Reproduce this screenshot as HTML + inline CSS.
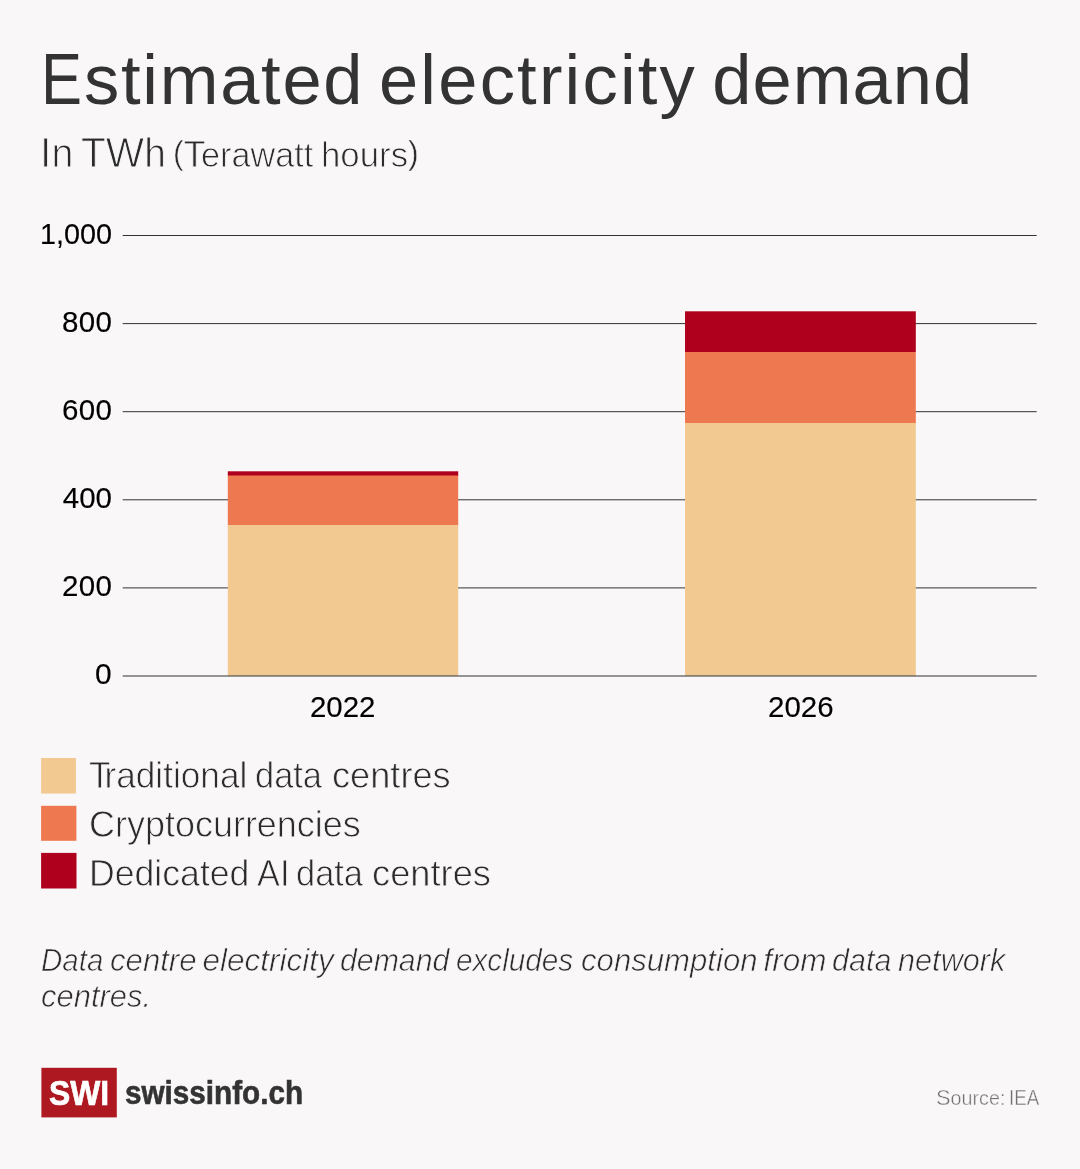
<!DOCTYPE html>
<html lang="en">
<head>
<meta charset="utf-8">
<meta name="viewport" content="width=1080">
<title>Estimated electricity demand</title>
<style>
  html, body { margin: 0; padding: 0; }
  body {
    width: 1080px; height: 1169px; overflow: hidden; position: relative;
    background: #f9f7f8; color: #333;
    font-family: "Liberation Sans", sans-serif;
  }
  h1, p, ul, li { margin: 0; padding: 0; font: inherit; list-style: none; }
  svg { position: absolute; left: 0; top: 0; }
  /* every text piece is absolutely placed; scaleX / letter-spacing tune glyph widths */
  .t { position: absolute; display: block; white-space: nowrap; line-height: 1; transform-origin: 0 0; }
</style>
</head>
<body>
<svg width="1080" height="1169" viewBox="0 0 1080 1169" aria-hidden="true">
  <g stroke="#333" stroke-width="1">
    <line x1="122.7" x2="1036.7" y1="235.5" y2="235.5"/>
    <line x1="122.7" x2="1036.7" y1="323.6" y2="323.6"/>
    <line x1="122.7" x2="1036.7" y1="411.7" y2="411.7"/>
    <line x1="122.7" x2="1036.7" y1="499.8" y2="499.8"/>
    <line x1="122.7" x2="1036.7" y1="587.9" y2="587.9"/>
  </g>
  <g>
    <rect x="227.8" y="471.3" width="230.4" height="4.7" fill="#af001d"/>
    <rect x="227.8" y="475.5" width="230.4" height="50" fill="#ee7950"/>
    <rect x="227.8" y="525" width="230.4" height="151" fill="#f2c990"/>
    <rect x="685" y="311.3" width="230.8" height="41" fill="#af001d"/>
    <rect x="685" y="352" width="230.8" height="71.5" fill="#ee7950"/>
    <rect x="685" y="423" width="230.8" height="253" fill="#f2c990"/>
  </g>
  <line x1="122.7" x2="1036.7" y1="676" y2="676" stroke="#333" stroke-width="1"/>
  <rect x="41.1" y="758" width="34.8" height="35.6" fill="#f2c990"/>
  <rect x="41.1" y="805.8" width="35.3" height="35" fill="#ee7950"/>
  <rect x="41.1" y="852.9" width="35.4" height="35.6" fill="#af001d"/>
  <rect x="41.4" y="1067.8" width="75.4" height="49.6" fill="#ae1921"/>
</svg>
<h1 id="title">
  <span class="t" style="left:41.13px;top:43px;font-size:70.5px;color:#333;letter-spacing:1.723px;"><span style="display:inline-block;font-size:1.035em;transform:scaleX(0.8432);transform-origin:0 0;margin-right:-7.46px">E</span>stimated</span>
  <span class="t" style="left:378.95px;top:45px;font-size:70.5px;color:#333;letter-spacing:2.212px;">electricity</span>
  <span class="t" style="left:712.27px;top:45px;font-size:70.5px;color:#333;letter-spacing:1.049px;">demand</span>
</h1>
<p id="sub1">
  <span class="t" style="left:39.94px;top:132px;font-size:40.75px;color:#2b2b2b;transform:scaleX(0.9647);-webkit-text-stroke:0.95px #f9f7f8;"><span style="font-size:1.043em">I</span>n</span>
  <span class="t" style="left:80.61px;top:132px;font-size:40.75px;color:#2b2b2b;transform:scaleX(0.9554);-webkit-text-stroke:0.95px #f9f7f8;"><span style="font-size:1.043em">TW</span>h</span>
</p>
<p id="sub2">
  <span class="t" style="left:172.72px;top:136px;font-size:35px;color:#2b2b2b;transform:scaleX(0.9776);-webkit-text-stroke:0.85px #f9f7f8;"><span style="font-size:0.930em;position:relative;top:-0.1em;-webkit-text-stroke-width:0.5px">(</span><span style="font-size:1.057em;letter-spacing:-0.13em">T</span>erawatt</span>
  <span class="t" style="left:320.91px;top:137px;font-size:35px;color:#2b2b2b;transform:scaleX(0.9947);-webkit-text-stroke:0.85px #f9f7f8;">hours<span style="font-size:0.930em;position:relative;top:-0.1em;-webkit-text-stroke-width:0.5px">)</span></span>
</p>
<div class="t" id="y0w0" style="left:39.77px;top:219px;font-size:29.5px;color:#000;transform:scaleX(0.9769);-webkit-text-stroke:0.15px #000;">1,000</div>
<div class="t" id="y1w0" style="left:62.08px;top:307px;font-size:29.5px;color:#000;letter-spacing:0.310px;-webkit-text-stroke:0.15px #000;">800</div>
<div class="t" id="y2w0" style="left:61.95px;top:395px;font-size:29.5px;color:#000;letter-spacing:0.414px;-webkit-text-stroke:0.15px #000;">600</div>
<div class="t" id="y3w0" style="left:62.79px;top:483px;font-size:29.5px;color:#000;letter-spacing:-0.038px;-webkit-text-stroke:0.15px #000;">400</div>
<div class="t" id="y4w0" style="left:62px;top:571px;font-size:29.5px;color:#000;letter-spacing:0.318px;-webkit-text-stroke:0.15px #000;">200</div>
<div class="t" id="y5w0" style="left:95.17px;top:659px;font-size:29.5px;color:#000;transform:scaleX(1.0160);-webkit-text-stroke:0.15px #000;">0</div>
<div class="t" id="x0w0" style="left:310px;top:692px;font-size:29.5px;color:#000;transform:scaleX(0.9972);-webkit-text-stroke:0.15px #000;">2022</div>
<div class="t" id="x1w0" style="left:767.9px;top:692px;font-size:29.5px;color:#000;transform:scaleX(0.9984);-webkit-text-stroke:0.15px #000;">2026</div>
<ul id="legend">
<li id="leg1">
  <span class="t" style="left:89.01px;top:757px;font-size:37px;color:#2b2b2b;transform:scaleX(0.9508);-webkit-text-stroke:0.8px #f9f7f8;"><span style="letter-spacing:-0.17em">T</span>raditional</span>
  <span class="t" style="left:255.25px;top:757px;font-size:37px;color:#2b2b2b;transform:scaleX(0.9303);-webkit-text-stroke:0.8px #f9f7f8;">data</span>
  <span class="t" style="left:331.61px;top:757px;font-size:37px;color:#2b2b2b;transform:scaleX(0.9779);-webkit-text-stroke:0.8px #f9f7f8;">centres</span>
</li>
<li id="leg2">
  <span class="t" style="left:89.05px;top:806px;font-size:37px;color:#2b2b2b;transform:scaleX(0.9720);-webkit-text-stroke:0.8px #f9f7f8;">Cryptocurrencies</span>
</li>
<li id="leg3">
  <span class="t" style="left:88.98px;top:855px;font-size:37px;color:#2b2b2b;transform:scaleX(0.9629);-webkit-text-stroke:0.8px #f9f7f8;">Dedicated</span>
  <span class="t" style="left:256.78px;top:855px;font-size:37px;color:#2b2b2b;transform:scaleX(0.9285);-webkit-text-stroke:0.8px #f9f7f8;">AI</span>
  <span class="t" style="left:295.65px;top:855px;font-size:37px;color:#2b2b2b;transform:scaleX(0.9305);-webkit-text-stroke:0.8px #f9f7f8;">data</span>
  <span class="t" style="left:371.81px;top:855px;font-size:37px;color:#2b2b2b;transform:scaleX(0.9803);-webkit-text-stroke:0.8px #f9f7f8;">centres</span>
</li>
</ul>
<p id="note1">
  <span class="t" style="left:41.1px;top:945px;font-size:31.5px;color:#2b2b2b;transform:scaleX(0.9359);font-style:italic;-webkit-text-stroke:0.7px #f9f7f8;">Data</span>
  <span class="t" style="left:110.09px;top:945px;font-size:31.5px;color:#2b2b2b;transform:scaleX(0.9888);font-style:italic;-webkit-text-stroke:0.7px #f9f7f8;">centre</span>
  <span class="t" style="left:202.48px;top:945px;font-size:31.5px;color:#2b2b2b;letter-spacing:0.003px;font-style:italic;-webkit-text-stroke:0.7px #f9f7f8;">electricity</span>
  <span class="t" style="left:340.1px;top:945px;font-size:31.5px;color:#2b2b2b;transform:scaleX(0.9607);font-style:italic;-webkit-text-stroke:0.7px #f9f7f8;">demand</span>
  <span class="t" style="left:456.38px;top:945px;font-size:31.5px;color:#2b2b2b;transform:scaleX(0.9429);font-style:italic;-webkit-text-stroke:0.7px #f9f7f8;">excludes</span>
  <span class="t" style="left:581.34px;top:945px;font-size:31.5px;color:#2b2b2b;transform:scaleX(0.9884);font-style:italic;-webkit-text-stroke:0.7px #f9f7f8;">consumption</span>
  <span class="t" style="left:763.37px;top:945px;font-size:31.5px;color:#2b2b2b;letter-spacing:0.070px;font-style:italic;-webkit-text-stroke:0.7px #f9f7f8;">from</span>
  <span class="t" style="left:832.1px;top:945px;font-size:31.5px;color:#2b2b2b;transform:scaleX(0.9678);font-style:italic;-webkit-text-stroke:0.7px #f9f7f8;">data</span>
  <span class="t" style="left:897.9px;top:945px;font-size:31.5px;color:#2b2b2b;transform:scaleX(0.9738);font-style:italic;-webkit-text-stroke:0.7px #f9f7f8;">network</span>
</p>
<p id="note2">
  <span class="t" style="left:41.34px;top:981px;font-size:31.5px;color:#2b2b2b;transform:scaleX(0.9829);font-style:italic;-webkit-text-stroke:0.7px #f9f7f8;">centres.</span>
</p>
<div class="t" id="swiw0" style="left:49.37px;top:1075px;font-size:35px;color:#fff;transform:scaleX(0.9101);font-weight:bold;-webkit-text-stroke:0.7px #fff;">SWI</div>
<div class="t" id="brandw0" style="left:125.21px;top:1077px;font-size:32.5px;color:#333;transform:scaleX(0.9126);font-weight:bold;-webkit-text-stroke:0.6px #333;">swissinfo.ch</div>
<p id="source">
  <span class="t" style="left:936.31px;top:1087px;font-size:20.25px;color:#727272;transform:scaleX(0.9735);-webkit-text-stroke:0.4px #f9f7f8;"><span style="font-size:1.111em">S</span>ource:</span>
  <span class="t" style="left:1009.07px;top:1087px;font-size:20.25px;color:#727272;transform:scaleX(0.8310);-webkit-text-stroke:0.4px #f9f7f8;"><span style="font-size:1.111em">IEA</span></span>
</p>
</body>
</html>
